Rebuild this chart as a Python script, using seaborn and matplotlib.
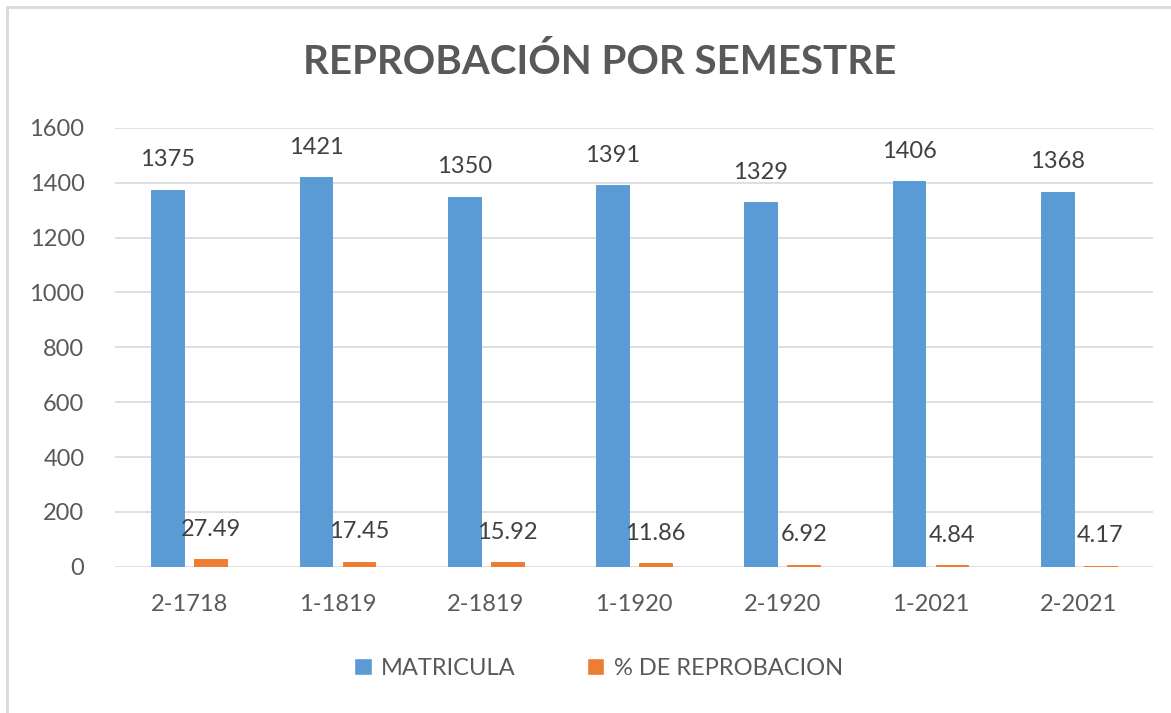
import pandas as pd
import seaborn as sb
import matplotlib.pyplot as plt
from matplotlib.lines import Line2D

# data
semestres = ['2-1718', '1-1819', '2-1819', '1-1920', '2-1920', '1-2021', '2-2021']
matricula = [1375, 1421, 1350, 1391, 1329, 1406, 1368]
reprobacion = [27.49, 17.45, 15.92, 11.86, 6.92, 4.84, 4.17]
series = ['MATRICULA', '% DE REPROBACION']

df = pd.DataFrame({
    'semestre': semestres * 2,
    'valor': matricula + reprobacion,
    'serie': [series[0]] * len(semestres) + [series[1]] * len(semestres),
})

GRAY = '#595959'
sb.set_style('white')
plt.rcParams['font.family'] = ['Lato', 'DejaVu Sans']

fig = plt.figure(figsize=(11.71, 7.13), dpi=100)
ax = fig.add_axes([0.0982, 0.2052, 0.8864, 0.6153])

sb.barplot(data=df, x='semestre', y='valor', hue='serie', palette=['#5B9BD5', '#ED7D31'],
           width=0.58, gap=0.24, saturation=1, ax=ax, legend=True)
# give the tiny bars a visible edge like the spreadsheet render
for cont in ax.containers:
    for bar in cont:
        bar.set_edgecolor(bar.get_facecolor())
        bar.set_linewidth(0.7)

ax.set_ylim(0, 1600)
ax.set_yticks(range(0, 1601, 200))
ax.yaxis.grid(True, color='#D9D9D9', linewidth=1.2)
ax.set_axisbelow(True)
for s in ax.spines.values():
    s.set_visible(False)
ax.set_xlabel('')
ax.set_ylabel('')
ax.tick_params(axis='both', length=0, labelsize=17, colors=GRAY)
ax.tick_params(axis='x', pad=20)
ax.tick_params(axis='y', pad=22)

# value labels
labels = [[str(v) for v in matricula], [f'{v:.2f}' for v in reprobacion]]
for cont, labs in zip(ax.containers, labels):
    ax.bar_label(cont, labels=labs, padding=14, fontsize=17, color='#404040')

# legend under the axes
handles, names = ax.get_legend_handles_labels()
ax.legend(handles, names, loc='center', bbox_to_anchor=(0.511, 0.063), bbox_transform=fig.transFigure,
          ncol=2, frameon=False, fontsize=17, labelcolor=GRAY, handlelength=0.75, handleheight=0.75,
          handletextpad=0.4, columnspacing=3.0)

fig.text(0.512, 0.913, 'REPROBACIÓN POR SEMESTRE', ha='center', va='center',
         fontsize=29, fontweight='bold', color=GRAY)

# chart frame (left and top edges visible in the screenshot)
fig.add_artist(Line2D([0.006, 0.006], [0, 0.99], transform=fig.transFigure, color='#D9D9D9', lw=2))
fig.add_artist(Line2D([0.006, 1.0], [0.99, 0.99], transform=fig.transFigure, color='#D9D9D9', lw=2))

plt.savefig('out.png', dpi=100)
